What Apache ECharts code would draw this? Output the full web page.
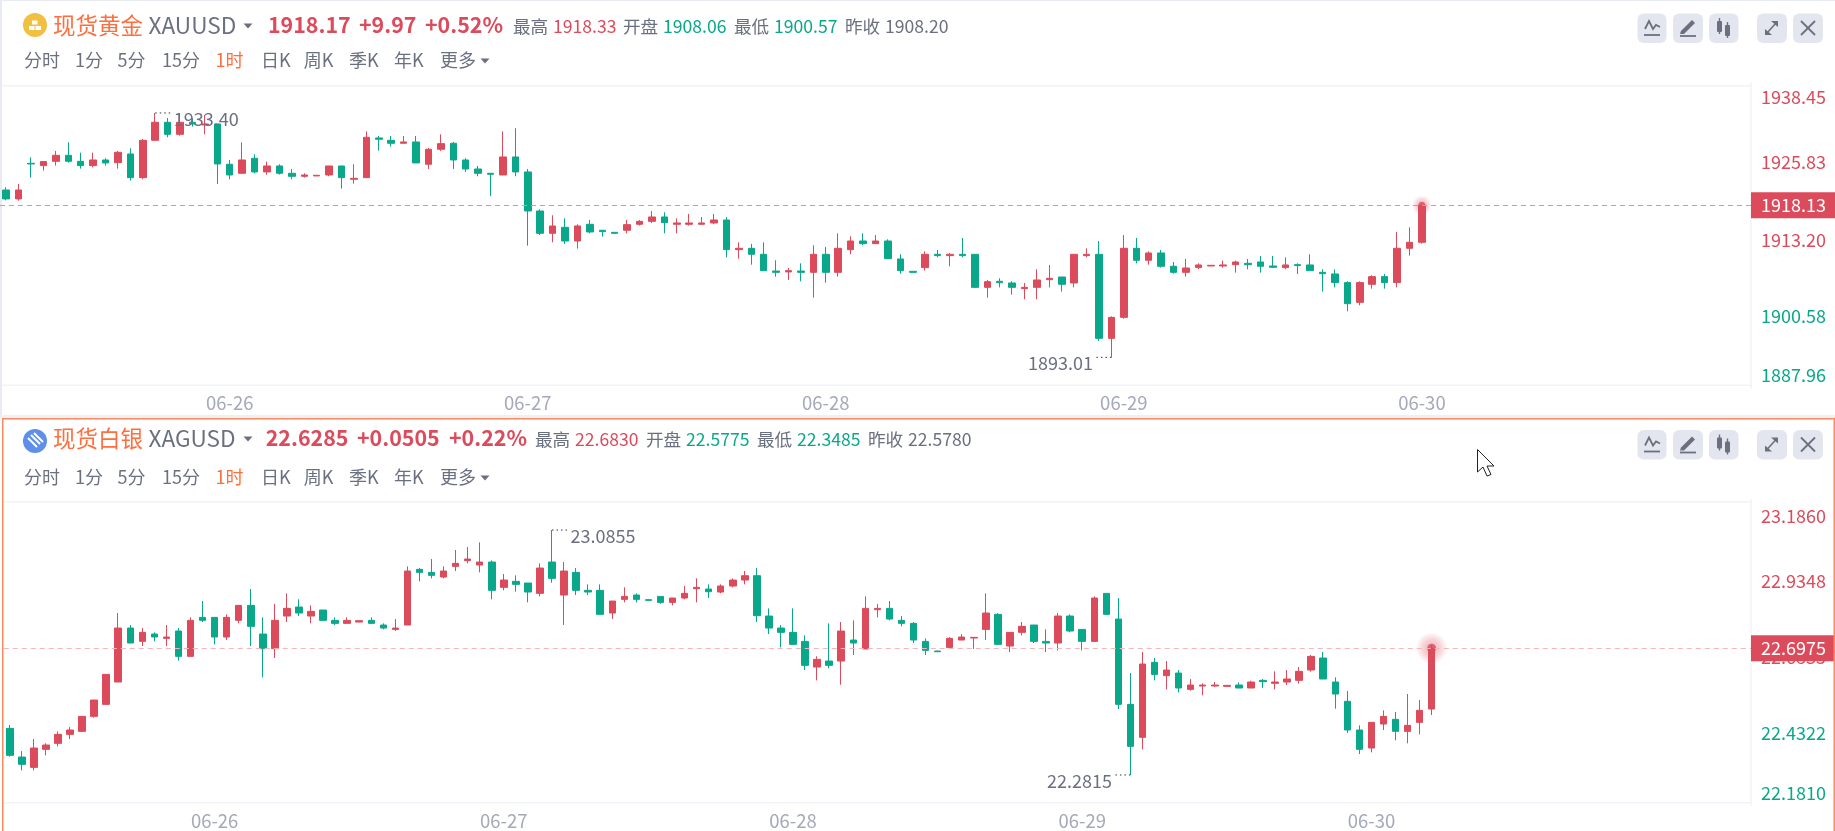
<!DOCTYPE html>
<html>
<head>
<meta charset="utf-8">
<title>现货黄金 现货白银</title>
<script src="https://cdn.jsdelivr.net/npm/echarts@6/dist/echarts.min.js"></script>
<style>
html,body{margin:0;padding:0;background:#fff;overflow:hidden;}
#chart{width:1835px;height:831px;}
</style>
</head>
<body>
<div id="chart"></div>
<script>
//现货黄金 1小时K线
var goldOpen=[1920.67,1919.19,1925.08,1924.70,1925.41,1926.40,1925.41,1924.70,1925.63,1925.19,
1926.62,1922.71,1928.88,1931.86,1929.87,1931.86,1931.42,1931.58,1924.92,1923.43,
1925.91,1923.65,1924.64,1923.43,1922.93,1922.99,1923.15,1924.64,1922.44,1922.71,
1929.27,1928.88,1928.39,1928.61,1924.92,1927.40,1928.39,1925.63,1924.14,1923.43,
1923.15,1926.13,1923.65,1917.20,1913.51,1914.50,1912.24,1915.00,1914.01,1913.67,
1914.01,1915.00,1915.49,1916.21,1915.00,1915.00,1915.00,1915.22,1915.71,1910.81,
1911.03,1910.04,1907.28,1907.12,1907.28,1907.06,1910.04,1907.06,1910.81,1912.24,
1911.80,1912.24,1909.27,1907.23,1907.84,1910.04,1909.82,1910.04,1910.04,1904.58,
1905.58,1905.30,1904.36,1904.58,1905.85,1906.29,1905.30,1909.82,1910.04,1896.15,
1899.62,1911.03,1909.05,1910.26,1908.06,1907.06,1907.84,1908.11,1908.11,1908.33,
1908.55,1908.77,1908.11,1907.84,1908.33,1908.28,1907.06,1906.79,1905.36,1902.10,
1905.08,1906.35,1905.36,1911.03,1912.02];
var goldClose=[1919.19,1920.67,1924.97,1925.36,1926.40,1925.41,1924.70,1925.63,1925.14,1926.90,
1922.71,1928.88,1931.86,1929.87,1931.86,1931.58,1931.58,1924.97,1923.15,1925.63,
1923.65,1924.64,1923.43,1922.93,1923.15,1923.10,1924.64,1922.71,1922.60,1929.38,
1929.05,1928.39,1928.61,1925.14,1927.40,1928.33,1925.63,1924.14,1923.43,1923.26,
1926.13,1923.65,1917.20,1913.51,1914.72,1912.24,1914.72,1913.73,1913.79,1913.51,
1914.94,1915.49,1916.21,1915.27,1915.22,1915.22,1915.22,1915.71,1910.81,1911.03,
1910.04,1907.34,1907.06,1907.34,1907.06,1910.04,1907.06,1911.03,1912.24,1911.80,
1912.24,1909.32,1907.34,1907.06,1910.04,1909.82,1910.04,1909.82,1904.58,1905.52,
1905.35,1904.58,1904.58,1905.80,1906.07,1905.08,1910.04,1910.04,1896.15,1899.62,
1911.03,1909.05,1910.26,1908.06,1907.06,1907.78,1908.28,1908.22,1908.28,1908.77,
1908.33,1908.06,1907.89,1908.28,1908.17,1907.34,1906.84,1905.36,1901.88,1905.36,
1906.35,1905.36,1911.03,1912.02,1918.13];
var goldLow=[1918.96,1918.91,1922.71,1923.87,1924.70,1925.19,1924.20,1924.42,1924.70,1924.20,
1922.22,1922.44,1928.88,1929.38,1929.65,1931.14,1929.87,1921.66,1922.44,1923.43,
1923.43,1923.21,1923.21,1922.44,1922.71,1922.99,1922.93,1920.89,1921.72,1922.71,
1927.17,1927.84,1928.39,1925.14,1924.14,1927.12,1924.14,1923.65,1922.93,1919.68,
1923.15,1922.93,1911.47,1913.23,1912.02,1911.75,1910.98,1913.51,1912.96,1913.51,
1913.51,1914.78,1915.22,1913.51,1913.51,1914.78,1915.00,1915.00,1909.54,1909.32,
1908.33,1907.34,1906.35,1905.80,1905.58,1902.88,1905.35,1906.35,1910.04,1911.53,
1911.80,1909.32,1906.84,1907.06,1907.34,1909.54,1908.06,1909.54,1904.58,1902.88,
1904.58,1903.37,1902.60,1902.60,1904.58,1903.87,1904.58,1909.54,1895.71,1893.01,
1899.40,1908.55,1908.33,1907.84,1906.84,1906.35,1907.56,1908.11,1907.84,1907.01,
1907.56,1907.01,1907.84,1907.56,1906.79,1907.34,1903.87,1904.58,1900.62,1901.61,
1904.36,1904.36,1904.58,1909.82,1911.80];
var goldHigh=[1921.11,1921.66,1926.07,1925.41,1927.12,1928.55,1926.84,1926.84,1925.91,1927.12,
1927.56,1929.10,1933.40,1932.57,1933.35,1932.52,1933.07,1931.58,1925.63,1928.55,
1926.57,1925.36,1924.92,1924.14,1923.43,1923.10,1924.64,1924.64,1924.92,1930.37,
1929.60,1929.60,1929.60,1929.60,1927.62,1929.87,1928.61,1925.91,1924.64,1923.43,
1930.37,1930.87,1924.14,1917.48,1916.49,1915.99,1915.00,1915.71,1914.01,1913.67,
1915.71,1915.71,1917.20,1916.98,1915.99,1916.71,1916.21,1916.71,1916.21,1912.02,
1911.75,1912.02,1909.05,1907.78,1908.55,1911.53,1911.25,1913.51,1913.01,1913.51,
1913.23,1912.52,1910.04,1907.23,1910.53,1910.76,1910.26,1912.74,1910.04,1905.80,
1906.07,1905.58,1905.30,1907.56,1908.28,1906.29,1910.04,1911.03,1912.24,1899.79,
1913.23,1912.74,1910.53,1910.76,1908.77,1909.27,1908.55,1908.22,1908.99,1908.99,
1909.27,1909.76,1909.76,1909.54,1908.55,1910.04,1907.56,1907.56,1905.58,1905.58,
1906.57,1906.79,1913.73,1914.50,1918.33];
var goldDates=['06-26','06-27','06-28','06-29','06-30'];
var goldDateIdx=[18,42,66,90,114];
var goldTicks=[1938.45,1925.83,1913.20,1900.58,1887.96];
var goldLast=1918.13;
var goldExtremes=[[12,1933.40,1],[89,1893.01,-1]];

//现货白银 1小时K线
var silverOpen=[22.4345,22.3404,22.3065,22.3656,22.3853,22.4148,22.4247,22.4739,22.5133,22.5866,
22.7638,22.7201,22.7441,22.7299,22.7540,22.6708,22.7988,22.7988,22.7343,22.7890,
22.8382,22.7441,22.6960,22.8032,22.8327,22.8032,22.8229,22.7890,22.7791,22.7835,
22.7890,22.7737,22.7594,22.7737,22.9564,22.9465,22.9312,22.9662,22.9848,22.9706,
22.9804,22.8973,22.9170,22.9115,22.8776,22.9804,22.8721,22.9465,22.8875,22.8875,
22.8131,22.8579,22.8721,22.8568,22.8677,22.8480,22.8623,22.8929,22.8918,22.8819,
22.9017,22.9213,22.9356,22.8032,22.7638,22.7496,22.7200,22.6358,22.6555,22.6555,
22.7244,22.6949,22.8240,22.8283,22.7890,22.7791,22.7200,22.6883,22.7003,22.7244,
22.7310,22.7594,22.8087,22.7047,22.7496,22.7737,22.7200,22.7146,22.8032,22.7594,
22.7200,22.8776,22.7933,22.5133,22.4050,22.6511,22.6074,22.6161,22.5625,22.5734,
22.5734,22.5724,22.5768,22.5669,22.5921,22.5823,22.5866,22.5921,22.6260,22.6654,
22.5866,22.5232,22.4291,22.3700,22.4488,22.4641,22.4247,22.4542,22.4980];
var silverClose=[22.3459,22.3164,22.3700,22.3798,22.4148,22.4291,22.4739,22.5275,22.6117,22.7638,
22.7146,22.7496,22.7343,22.7343,22.6708,22.7890,22.7890,22.7343,22.7988,22.8382,
22.7693,22.6960,22.7890,22.8284,22.8131,22.8185,22.7890,22.7791,22.7890,22.7879,
22.7791,22.7638,22.7638,22.9509,22.9465,22.9367,22.9509,22.9761,22.9903,22.9804,
22.8875,22.9214,22.9071,22.8820,22.9607,22.9268,22.9509,22.8875,22.8820,22.8087,
22.8524,22.8677,22.8579,22.8546,22.8480,22.8623,22.8776,22.8973,22.8830,22.9017,
22.9213,22.9356,22.8043,22.7638,22.7496,22.7102,22.6413,22.6610,22.6413,22.7540,
22.7146,22.8283,22.8283,22.7933,22.7791,22.7244,22.6905,22.6861,22.7299,22.7343,
22.7332,22.8130,22.7102,22.7496,22.7693,22.7200,22.7146,22.8032,22.7540,22.7200,
22.8623,22.8087,22.5133,22.3754,22.6457,22.6117,22.6260,22.5669,22.5767,22.5767,
22.5767,22.5757,22.5669,22.5866,22.5877,22.5866,22.5965,22.6216,22.6708,22.5965,
22.5472,22.4291,22.3656,22.4542,22.4739,22.4247,22.4444,22.4936,22.6975];
var silverLow=[22.3415,22.2967,22.2967,22.3459,22.3754,22.3995,22.4247,22.4695,22.5133,22.5866,
22.7146,22.7047,22.7201,22.7047,22.6566,22.6708,22.7835,22.7102,22.7244,22.7791,
22.7047,22.6019,22.6654,22.7835,22.8032,22.7791,22.7890,22.7737,22.7791,22.7835,
22.7791,22.7594,22.7540,22.7737,22.9170,22.9268,22.9268,22.9509,22.9761,22.9465,
22.8579,22.8875,22.8831,22.8481,22.8677,22.9126,22.7737,22.8721,22.8721,22.8087,
22.7934,22.8480,22.8480,22.8535,22.8437,22.8382,22.8579,22.8480,22.8623,22.8776,
22.8973,22.9071,22.7835,22.7441,22.7003,22.7102,22.6260,22.5920,22.6314,22.5778,
22.6752,22.6949,22.7988,22.7890,22.7693,22.7146,22.6752,22.6850,22.6949,22.7244,
22.6949,22.7244,22.7102,22.6850,22.7397,22.7146,22.6850,22.6905,22.7496,22.6905,
22.7200,22.8087,22.4980,22.2815,22.3656,22.5920,22.5625,22.5527,22.5581,22.5428,
22.5712,22.5724,22.5669,22.5669,22.5669,22.5625,22.5768,22.5812,22.6205,22.5965,
22.4991,22.4192,22.3503,22.3558,22.4291,22.3952,22.3853,22.4148,22.4783];
var silverHigh=[22.4455,22.3601,22.3995,22.3853,22.4247,22.4389,22.4739,22.5275,22.6117,22.8131,
22.7737,22.7638,22.7496,22.7737,22.7638,22.7988,22.8524,22.7988,22.8087,22.8382,
22.8918,22.7988,22.8426,22.8776,22.8579,22.8382,22.8229,22.7988,22.7988,22.7879,
22.7988,22.7791,22.7934,22.9662,22.9607,22.9903,22.9662,23.0198,23.0297,23.0450,
22.9859,22.9410,22.9367,22.9115,22.9761,23.0855,22.9804,22.9607,22.9071,22.9071,
22.8524,22.8973,22.8776,22.8579,22.8677,22.8623,22.9017,22.9268,22.9071,22.9071,
22.9268,22.9509,22.9607,22.8283,22.7737,22.8283,22.7397,22.6708,22.7791,22.7835,
22.7890,22.8677,22.8426,22.8524,22.8032,22.7835,22.7299,22.6894,22.7343,22.7441,
22.7343,22.8776,22.8130,22.7496,22.7835,22.7737,22.7594,22.8130,22.8087,22.7594,
22.8677,22.8776,22.8623,22.6161,22.6850,22.6653,22.6555,22.6260,22.5964,22.5822,
22.5866,22.5757,22.5855,22.5910,22.5965,22.6216,22.6260,22.6358,22.6752,22.6851,
22.6019,22.5571,22.4444,22.4542,22.4936,22.4881,22.5472,22.5276,22.7080];
var silverDates=['06-26','06-27','06-28','06-29','06-30'];
var silverDateIdx=[17,41,65,89,113];
var silverTicks=[23.1860,22.9348,22.6835,22.4322,22.1810];
var silverLast=22.6975;
var silverExtremes=[[45,23.0855,1],[93,22.2815,-1]];

//顶部行情文字
var periods=['分时','1分','5分','15分','1时','日K','周K','季K','年K','更多'];
var periodX=[24,75,117.5,162,215.5,261,303.7,349,394,440];
var goldQuote=['1918.17','+9.97','+0.52%','1918.33','1908.06','1900.57','1908.20'];
var silverQuote=['22.6285','+0.0505','+0.22%','22.6830','22.5775','22.3485','22.5780'];

var RED='#dc4b5b',GREEN='#0aa88b',GRAY='#6b7080',ORANGE='#ff6e3c',LINE='#f2f3f8',BTN='#e3e6ee';
var FONT='"Noto Sans CJK SC","Noto Sans",sans-serif';

function candleData(o,c,l,h){
    var i,arr=[];
    for(i=0;i<o.length;i++){
        arr.push([o[i],c[i],l[i],h[i]]);
    }
    return arr;
}
function xLabels(n,idx,names){
    var i,arr=[];
    for(i=0;i<n;i++){
        arr.push('');
    }
    for(i=0;i<idx.length;i++){
        arr[idx[i]]=names[i];
    }
    return arr;
}
//axis label 错开显示，顶部下移，底部上移
function tickRich(ticks,dy,colors){
    var i,rich={};
    for(i=0;i<ticks.length;i++){
        rich['t'+i]={
            color:colors[i],
            fontSize:18,
            fontFamily:FONT,
            padding:dy[i]>0?[dy[i]*2,0,0,0]:[0,0,-dy[i]*2,0]
        };
    }
    return rich;
}
function txt(x,y,str,size,color,weight){
    return {
        type:'text',silent:true,z:5,
        style:{x:x,y:y,text:str,fill:color,fontSize:size,fontFamily:FONT,fontWeight:weight||'normal',verticalAlign:'middle'}
    };
}
function box(x,y,w,h,color,r,z){
    return {type:'rect',silent:true,z:z||0,shape:{x:x,y:y,width:w,height:h,r:r||0},style:{fill:color}};
}
function tri(x,y,color){
    return {type:'polygon',silent:true,z:5,shape:{points:[[x-4.5,y-2.5],[x+4.5,y-2.5],[x,y+2.5]]},style:{fill:color}};
}
function stroke(pts,color,w){
    return {type:'polyline',silent:true,z:6,shape:{points:pts},style:{stroke:color,fill:'none',lineWidth:w||1.8}};
}
function poly(pts,color){
    return {type:'polygon',silent:true,z:6,shape:{points:pts},style:{fill:color}};
}

//右上角工具按钮
function toolbar(y){
    var g=[],c='#6b7080',m=y+14.5;
    g.push(box(1637.5,y,29,29.5,BTN,6),box(1673,y,30,29.5,BTN,6),box(1709,y,29.5,29.5,BTN,6),box(1757,y,30,29.5,BTN,6),box(1793,y,30,29.5,BTN,6));
    //线
    g.push(stroke([[1645,m+1],[1649,m-7],[1653,m+1],[1656,m-3],[1660,m-1]],c,1.8));
    g.push(stroke([[1644,m+7],[1660,m+7]],c,1.8));
    //笔
    g.push(poly([[1681,m+3],[1692,m-8],[1695,m-5],[1684,m+6],[1680,m+6]],c));
    g.push(stroke([[1680,m+8],[1696,m+8]],c,1.8));
    //K线
    g.push(box(1717,m-7,5,11,c,1,6),box(1725,m-3,5,11,c,1,6));
    g.push(stroke([[1719.5,m-10],[1719.5,m+6]],c,1.4),stroke([[1727.5,m-6],[1727.5,m+10]],c,1.4));
    //放大
    g.push(stroke([[1766,m+6],[1777,m-6]],c,1.6));
    g.push(poly([[1778,m-7],[1771,m-7],[1778,m-1]],c),poly([[1765,m+7],[1772,m+7],[1765,m+1]],c));
    //关闭
    g.push(stroke([[1801,m-7],[1815,m+7]],c,1.8),stroke([[1815,m-7],[1801,m+7]],c,1.8));
    return g;
}
//行情头部：x 数组依次为涨跌文字和四组高开低收
function header(name,code,q,y1,y2,xs,iconY,iconColor){
    var g=[],i;
    var labels=['最高','开盘','最低','昨收'];
    var colors=[RED,GREEN,GREEN,GRAY];
    g.push({type:'circle',silent:true,z:5,shape:{cx:35,cy:iconY,r:12},style:{fill:iconColor}});
    g.push(txt(53,y1,name,22.5,ORANGE));
    g.push(txt(148.5,y1,code,22.6,GRAY));
    g.push(tri(248,y1+1,GRAY));
    g.push(txt(xs[0],y1,q[0],21.4,RED,700));
    g.push(txt(xs[1],y1,q[1],21.4,RED,700));
    g.push(txt(xs[2],y1,q[2],21.4,RED,700));
    for(i=0;i<4;i++){
        g.push(txt(xs[3+i*2],y1+1,labels[i],17.6,GRAY));
        g.push(txt(xs[4+i*2],y1+1,q[3+i],17.6,colors[i]));
    }
    for(i=0;i<periods.length;i++){
        g.push(txt(periodX[i],y2,periods[i],18,i===4?ORANGE:GRAY));
    }
    g.push(tri(485,y2+1,GRAY));
    return g;
}

var graphics=[];
//面板边框
graphics.push(box(0,0,1835,1,'#e8ebf2'),box(0,0,2,415,'#e8ebf2'),box(0,415,1835,3,'#eef0f5'));
graphics.push(box(2,85,1750,1.5,LINE),box(2,384.5,1750,1.5,LINE));
graphics.push(box(4,501,1748,1.5,LINE),box(4,802,1748,1.5,LINE));
graphics.push(box(2,418,1833,1.5,'#f98a5f',0,50),box(2,418,1.5,413,'#f98a5f',0,50),box(1833.5,418,1.5,413,'#f98a5f',0,50));
graphics=graphics.concat(header('现货黄金','XAUUSD',goldQuote,25,60,[268,359,425,513,553,623,663,734,774,845,885],25,'#f2c041'));
graphics=graphics.concat(header('现货白银','XAGUSD',silverQuote,438,477,[265.7,357,449,535,575,646,686,757,797,868,908],441,'#5f8fe8'));
graphics=graphics.concat(toolbar(13.5),toolbar(430));
//金条图标
graphics.push(box(29,26,5.5,4,'#fff',0,6),box(35.5,26,5.5,4,'#fff',0,6),box(32,20.5,5.5,4,'#fff',0,6));
//白银图标
graphics.push({type:'line',silent:true,z:6,shape:{x1:28,y1:438,x2:37,y2:447},style:{stroke:'#fff',lineWidth:2}});
graphics.push({type:'line',silent:true,z:6,shape:{x1:31,y1:435,x2:40,y2:444},style:{stroke:'#fff',lineWidth:2}});
graphics.push({type:'line',silent:true,z:6,shape:{x1:34,y1:433,x2:43,y2:442},style:{stroke:'#fff',lineWidth:2}});
//鼠标
graphics.push({type:'polygon',silent:true,z:60,shape:{points:[[1477.5,449.5],[1477.5,472],[1483,467],[1487,476],[1491,474.5],[1487,466],[1494,466]]},style:{fill:'#fff',stroke:'#222',lineWidth:1}});

//最高最低价标注
function extremeItem(decimals){
    return function(params,api){
        var p=api.coord([api.value(0),api.value(1)]);
        var dir=api.value(2);
        var x2=p[0]+dir*16;
        return {
            type:'group',
            children:[
                {type:'line',shape:{x1:p[0],y1:p[1],x2:x2,y2:p[1]},style:{stroke:'#333',lineWidth:1,lineDash:[1.5,3]}},
                {type:'text',style:{
                    x:p[0]+dir*18.5,y:p[1]+6,text:api.value(1).toFixed(decimals),
                    fill:GRAY,fontSize:18,fontFamily:FONT,
                    align:dir>0?'left':'right',verticalAlign:'middle'
                }}
            ]
        };
    };
}
function priceSeries(name,idx,candles,last,extremes,decimals,barW,dotSize,haloSize,lineColor){
    return [
        {
            name:name,type:'candlestick',xAxisIndex:idx,yAxisIndex:idx,data:candles,barWidth:barW,
            itemStyle:{color:RED,color0:GREEN,borderColor:RED,borderColor0:GREEN,borderWidth:1},
            markLine:{
                silent:true,symbol:'none',animation:false,
                precision:4,z:20,
                lineStyle:{color:lineColor,type:[5,4],width:1},
                label:{
                    show:true,position:'end',distance:0,color:'#fff',backgroundColor:RED,
                    fontSize:18,fontFamily:FONT,padding:[4,10,4,10],
                    formatter:function(){return last.toFixed(decimals);}
                },
                data:[{yAxis:last}]
            }
        },
        {
            type:'custom',xAxisIndex:idx,yAxisIndex:idx,silent:true,z:8,clip:false,
            renderItem:extremeItem(decimals),data:extremes
        },
        {
            type:'scatter',xAxisIndex:idx,yAxisIndex:idx,silent:true,z:9,symbolSize:haloSize,
            itemStyle:{color:{type:'radial',x:0.5,y:0.5,r:0.5,colorStops:[
                {offset:0,color:'rgba(220,75,91,0.55)'},
                {offset:0.55,color:'rgba(220,75,91,0.3)'},
                {offset:1,color:'rgba(220,75,91,0)'}
            ]}},
            data:[[candles.length-1,last]]
        },
        {
            type:'scatter',xAxisIndex:idx,yAxisIndex:idx,silent:true,z:10,symbolSize:dotSize,
            itemStyle:{color:RED},
            data:[[candles.length-1,last]]
        }
    ];
}
function yAxis(idx,ticks,dy,colors,decimals){
    return {
        type:'value',gridIndex:idx,position:'right',scale:true,
        min:ticks[ticks.length-1],max:ticks[0],
        splitLine:{show:false},axisTick:{show:false},
        axisLine:{show:true,lineStyle:{color:LINE,width:1.5}},
        axisLabel:{
            show:true,margin:10,hideOverlap:false,showMinLabel:true,showMaxLabel:true,
            customValues:ticks,
            rich:tickRich(ticks,dy,colors),
            formatter:function(v){
                return '{t'+ticks.indexOf(v)+'|'+v.toFixed(decimals)+'}';
            }
        }
    };
}
function xAxis(idx,n,dateIdx,dates){
    return {
        type:'category',gridIndex:idx,boundaryGap:true,data:xLabels(n,dateIdx,dates),
        axisLine:{show:false},axisTick:{show:false},splitLine:{show:false},
        axisLabel:{
            margin:6,color:'#a5a9ba',fontSize:18.5,fontFamily:FONT,
            hideOverlap:false,
            interval:function(i,v){return v!=='';}
        }
    };
}

var chart=echarts.init(document.getElementById('chart'));
var option={
    animation:false,
    backgroundColor:'#fff',
    textStyle:{fontFamily:FONT},
    graphic:{elements:graphics},
    grid:[
        {left:-0.71,top:82.4,width:1751.71,height:305.5,containLabel:false},
        {left:3.75,top:499.4,width:1747.25,height:306.2,containLabel:false}
    ],
    xAxis:[xAxis(0,141,goldDateIdx,goldDates),xAxis(1,145,silverDateIdx,silverDates)],
    yAxis:[
        yAxis(0,goldTicks,[14.6,3.6,4.8,4.4,-12.9],[RED,RED,RED,GREEN,GREEN],2),
        yAxis(1,silverTicks,[16.3,4.8,4.5,4,-12.6],[RED,RED,RED,GREEN,GREEN],4)
    ],
    series:priceSeries('现货黄金',0,candleData(goldOpen,goldClose,goldLow,goldHigh),goldLast,goldExtremes,2,7,7,20,'#f08a96')
        .concat(priceSeries('现货白银',1,candleData(silverOpen,silverClose,silverLow,silverHigh),silverLast,silverExtremes,4,7,9,32,'#f6b4bb'))
};
chart.setOption(option);
</script>
</body>
</html>
